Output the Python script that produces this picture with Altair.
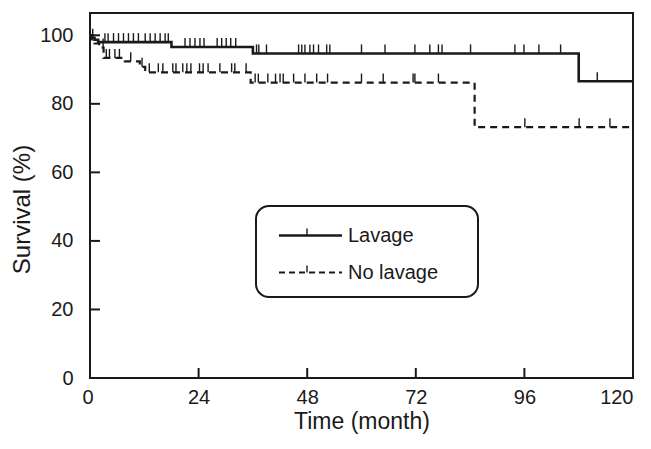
import altair as alt
import pandas as pd

# ---- data ----
lav_t = [0, 0.5, 1.0, 1.8, 18.0, 36.0, 108.0, 120.0]
lav_s = [100, 99.3, 98.7, 98.0, 96.6, 94.7, 86.6, 86.6]
nol_t = [0, 0.4, 1.0, 2.0, 3.0, 7.7, 11.0, 12.2, 35.5, 85.0, 120.0]
nol_s = [100, 98.8, 97.6, 96.4, 93.4, 92.4, 90.8, 89.2, 86.2, 73.2, 73.2]

lav_cens = [0.6, 3.3, 4.0, 5.2, 6.3, 7.4, 8.5, 9.6, 10.7, 12.2, 13.3, 14.4, 15.5, 16.6, 17.3,
            21.0, 22.1, 23.2, 24.3, 25.2, 28.1, 29.1, 30.1, 31.1, 32.2,
            36.8, 37.3, 39.0, 46.1, 46.8, 47.5, 48.6, 49.4, 50.5, 52.3, 53.0, 60.0, 65.2,
            71.8, 75.1, 77.0, 77.8, 84.1, 93.9, 95.9, 99.2, 104.0, 112.1]
nol_cens = [2.9, 3.6, 4.3, 5.5, 6.5, 9.0, 11.5,
            13.1, 15.1, 16.1, 18.3, 19.0, 20.5, 21.4, 22.3, 24.2, 25.0, 26.1, 28.7, 31.3, 32.0, 34.5,
            36.5, 37.2, 39.3, 41.0, 42.0, 42.7, 45.0, 47.5, 50.1, 52.5, 60.0, 64.8, 71.4, 71.8, 77.0,
            96.1, 108.1, 114.9]

x_ticks = [0, 24, 48, 72, 96, 120]
y_ticks = [0, 20, 40, 60, 80, 100]
legend_labels = ["Lavage", "No lavage"]


def level_at(ts, ss, t):
    v = ss[0]
    for a, b in zip(ts, ss):
        if a <= t:
            v = b
    return v


df_lav = pd.DataFrame({"t": lav_t, "s": lav_s})
df_nol = pd.DataFrame({"t": nol_t, "s": nol_s})
df_lc = pd.DataFrame({"t": lav_cens, "s": [level_at(lav_t, lav_s, t) for t in lav_cens]})
df_nc = pd.DataFrame({"t": nol_cens, "s": [level_at(nol_t, nol_s, t) for t in nol_cens]})

W, H = 543, 365
INK = "#1a1a1a"
FONT = "Liberation Sans"
TICK_SHAPE = "M0,0L0,-1"

xs = alt.Scale(domain=[0, 120], nice=False, zero=False)
ys = alt.Scale(domain=[0, 106.5], nice=False)

x_axis = alt.Axis(values=x_ticks, ticks=False, domain=False, grid=False,
                  labelFontSize=20, labelFont=FONT, labelColor=INK, labelPadding=9,
                  labelOffset={"condition": {"test": "datum.value === 0", "value": -8}, "value": 0},
                  title="Time (month)", titleFontSize=23, titleFont=FONT, titleFontWeight="normal",
                  titleColor=INK, titleY=43, titleBaseline="middle")
y_axis = alt.Axis(values=y_ticks, ticks=False, domain=False, grid=False,
                  labelFontSize=20, labelFont=FONT, labelColor=INK, labelPadding=17,
                  title="Survival (%)", titleFontSize=24, titleFont=FONT, titleFontWeight="normal",
                  titleColor=INK, titleX=-68, titleY=196, titleBaseline="middle", titleAngle=-90,
                  titleAlign="center")

X = alt.X("t:Q", scale=xs, axis=x_axis)
Y = alt.Y("s:Q", scale=ys, axis=y_axis)

line_lav = alt.Chart(df_lav).mark_line(interpolate="step-after", color=INK, strokeWidth=2.6).encode(x=X, y=Y)
line_nol = alt.Chart(df_nol).mark_line(interpolate="step-after", color=INK, strokeWidth=2.2,
                                        strokeDash=[7, 5]).encode(x=X, y=Y)
cens_lav = alt.Chart(df_lc).mark_point(shape=TICK_SHAPE, size=324, color=INK, strokeWidth=1.4,
                                       filled=False, opacity=1).encode(x=X, y=Y)
cens_nol = alt.Chart(df_nc).mark_point(shape=TICK_SHAPE, size=324, color=INK, strokeWidth=1.4,
                                       filled=False, opacity=1).encode(x=X, y=Y)

# inward axis ticks
xt = alt.Chart(pd.DataFrame({"t": x_ticks[1:-1]})).mark_rule(color=INK, strokeWidth=2).encode(
    x=X, y=alt.value(H), y2=alt.value(H - 10))
yt = alt.Chart(pd.DataFrame({"s": y_ticks[1:]})).mark_rule(color=INK, strokeWidth=2).encode(
    y=Y, x=alt.value(0), x2=alt.value(10))

# legend
one = pd.DataFrame({"a": [0]})
box = alt.Chart(one).mark_rect(cornerRadius=13, fill="white", stroke=INK, strokeWidth=2).encode(
    x=alt.value(166), x2=alt.value(388), y=alt.value(193), y2=alt.value(284))
leg_l1 = alt.Chart(one).mark_rule(color=INK, strokeWidth=2.6).encode(
    x=alt.value(189), x2=alt.value(252), y=alt.value(222.5))
leg_l2 = alt.Chart(one).mark_rule(color=INK, strokeWidth=2.2, strokeDash=[6, 4]).encode(
    x=alt.value(189), x2=alt.value(252), y=alt.value(259.5))
leg_tk = alt.Chart(pd.DataFrame({"yy": [222.5, 259.5]})).mark_point(
    shape=TICK_SHAPE, size=196, color=INK, strokeWidth=1.4, filled=False, opacity=1).encode(
    x=alt.value(217), y=alt.Y("yy:Q", scale=None, axis=None))
leg_txt = alt.Chart(pd.DataFrame({"lab": legend_labels, "yy": [222.5, 259.5]})).mark_text(
    align="left", baseline="middle", font=FONT, fontSize=20, color=INK).encode(
    x=alt.value(258), y=alt.Y("yy:Q", scale=None, axis=None), text="lab:N")

chart = alt.layer(line_lav, line_nol, cens_nol, cens_lav, xt, yt,
                  box, leg_l1, leg_l2, leg_tk, leg_txt).properties(
    width=W, height=H,
    background="white",
    padding={"left": 82, "top": 5, "right": 10, "bottom": 63},
    autosize=alt.AutoSizeParams(type="none"),
).configure_view(stroke=INK, strokeWidth=2)

chart.save("out.html", embed_options={"renderer": "svg", "actions": False})
